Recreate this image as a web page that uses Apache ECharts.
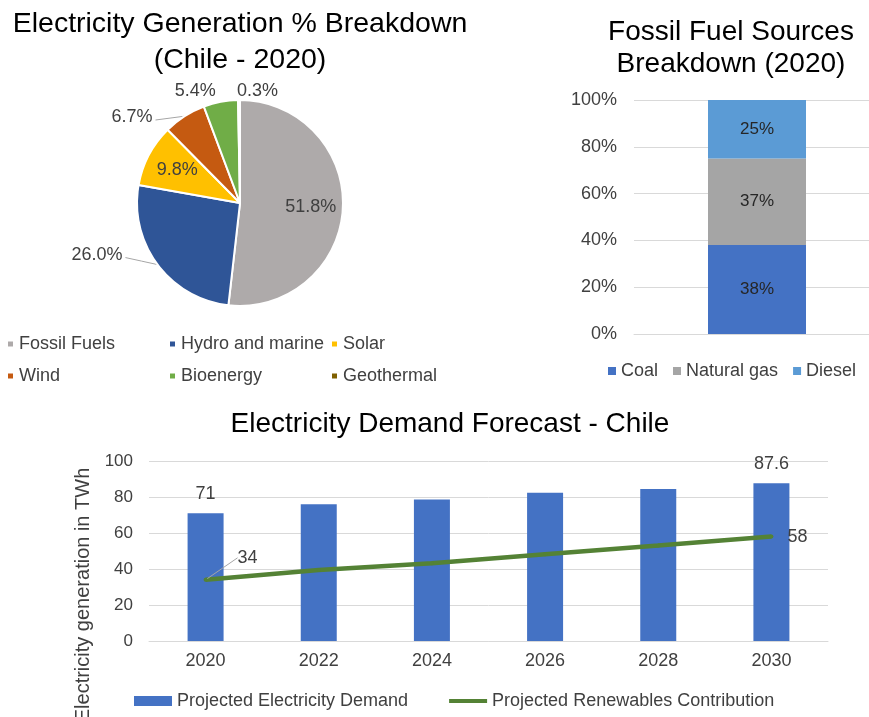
<!DOCTYPE html>
<html>
<head>
<meta charset="utf-8">
<script src="https://cdn.jsdelivr.net/npm/echarts@6/dist/echarts.min.js"></script>
<style>
  html, body { margin: 0; padding: 0; background: #fff; }
  #chart { width: 869px; height: 717px; }
</style>
</head>
<body>
<div id="chart"></div>
<script>
  // generation mix 2020 (pie)
  const sourceNames = ['Fossil Fuels', 'Hydro and marine', 'Solar', 'Wind', 'Bioenergy', 'Geothermal'];
  const sourceShares = [51.8, 26.0, 9.8, 6.7, 5.4, 0.3];
  const sourceColors = ['#aeaaaa', '#2f5597', '#ffc000', '#c55a11', '#70ad47', '#7f6000'];

  // fossil fuel split (stacked bar)
  const fuelNames = ['Coal', 'Natural gas', 'Diesel'];
  const fuelShares = [38, 37, 25];
  const fuelColors = ['#4472c4', '#a5a5a5', '#5b9bd5'];
  const pctTicks = [0, 20, 40, 60, 80, 100];

  // demand forecast
  const years = ['2020', '2022', '2024', '2026', '2028', '2030'];
  const demand = [71, 76, 78.6, 82.3, 84.4, 87.6];
  const renewables = [34, 39.5, 43.2, 48.2, 53, 58];
  const twhTicks = [0, 20, 40, 60, 80, 100];

  const FONT = 'Liberation Sans, Arial, sans-serif';
  const PIE_C = [240, 203];
  const insideIdx = [0, 2];
  const lineIdx = [1, 3];
  // label nudges for the outer pie labels
  const pieNudge = { 1: [0, -16], 3: [24, -23], 4: [37, -29], 5: [44, -9] };

  let myChart = echarts.init(document.getElementById('chart'));

  let pieData = sourceNames.map((n, i) => {
    let item = { name: n, value: sourceShares[i], itemStyle: { color: sourceColors[i] } };
    if (insideIdx.includes(i)) {
      item.label = { position: 'inside' };
    }
    if (i >= 4) {
      item.labelLine = { show: false, length: 0, length2: 0 };
    }
    return item;
  });

  let fuelSeries = fuelNames.map((n, i) => ({
    name: n,
    type: 'bar',
    stack: 'fuel',
    xAxisIndex: 0,
    yAxisIndex: 0,
    barWidth: 98,
    data: [fuelShares[i]],
    itemStyle: { color: fuelColors[i] },
    label: {
      show: true,
      formatter: '{c}%',
      color: '#262626',
      fontSize: 17,
      fontFamily: FONT
    }
  }));

  let legendText = { fontSize: 18, color: '#404040', fontFamily: FONT };

  let option = {
    animation: false,
    textStyle: { fontFamily: FONT },
    title: [
      {
        text: 'Electricity Generation % Breakdown\n(Chile - 2020)',
        left: 240, top: 6, padding: 0,
        textAlign: 'center',
        textStyle: { fontSize: 28.5, fontWeight: 'normal', color: '#000', lineHeight: 36, fontFamily: FONT }
      },
      {
        text: 'Fossil Fuel Sources\nBreakdown (2020)',
        left: 731, top: 16, padding: 0,
        textAlign: 'center',
        textStyle: { fontSize: 28, fontWeight: 'normal', color: '#000', lineHeight: 32, fontFamily: FONT }
      },
      {
        text: 'Electricity Demand Forecast - Chile',
        left: 450, top: 410, padding: 0,
        textAlign: 'center',
        textStyle: { fontSize: 28, fontWeight: 'normal', color: '#000', lineHeight: 28, fontFamily: FONT }
      }
    ],
    legend: [
      {
        data: ['Fossil Fuels', 'Wind'], orient: 'vertical', left: 6, top: 335, padding: 0,
        icon: 'rect', itemWidth: 7, itemHeight: 7, itemGap: 14, textStyle: legendText
      },
      {
        data: ['Hydro and marine', 'Bioenergy'], orient: 'vertical', left: 168, top: 335, padding: 0,
        icon: 'rect', itemWidth: 7, itemHeight: 7, itemGap: 14, textStyle: legendText
      },
      {
        data: ['Solar', 'Geothermal'], orient: 'vertical', left: 330, top: 335, padding: 0,
        icon: 'rect', itemWidth: 7, itemHeight: 7, itemGap: 14, textStyle: legendText
      },
      {
        data: fuelNames, left: 608, top: 362, padding: 0,
        icon: 'rect', itemWidth: 8, itemHeight: 8, itemGap: 15, textStyle: legendText
      },
      {
        data: [
          { name: 'Projected Electricity Demand', icon: 'rect' },
          { name: 'Projected Renewables Contribution', icon: 'path://M0,0H40V4H0Z' }
        ],
        left: 134, top: 692, padding: 0, itemGap: 41,
        itemWidth: 38, itemHeight: 10, textStyle: legendText
      }
    ],
    grid: [
      { left: 634, right: -11, top: 100, bottom: 383, outerBoundsMode: 'none' },
      { left: 149, right: 41, top: 461, bottom: 76, outerBoundsMode: 'none' }
    ],
    xAxis: [
      {
        gridIndex: 0, type: 'category', data: ['2020'],
        axisLabel: { show: false }, axisTick: { show: false },
        axisLine: { lineStyle: { color: '#d9d9d9' } }
      },
      {
        gridIndex: 1, type: 'category', data: years,
        axisTick: { show: false },
        axisLine: { lineStyle: { color: '#d9d9d9' } },
        axisLabel: { fontSize: 18, color: '#404040', margin: 11 }
      }
    ],
    yAxis: [
      {
        gridIndex: 0, type: 'value',
        min: pctTicks[0], max: pctTicks[pctTicks.length - 1], interval: pctTicks[1] - pctTicks[0],
        axisLabel: { formatter: '{value}%', fontSize: 18, color: '#404040', margin: 17 },
        splitLine: { lineStyle: { color: '#d9d9d9' } }
      },
      {
        gridIndex: 1, type: 'value',
        min: twhTicks[0], max: twhTicks[twhTicks.length - 1], interval: twhTicks[1] - twhTicks[0],
        name: 'Electricity generation in TWh',
        nameLocation: 'middle', nameGap: 51, nameRotate: 90,
        nameTextStyle: { fontSize: 20, color: '#404040', padding: [0, 88, 0, 0] },
        axisLabel: { fontSize: 17, color: '#404040', margin: 16 },
        splitLine: { lineStyle: { color: '#d9d9d9' } }
      }
    ],
    series: [
      {
        type: 'pie',
        center: PIE_C,
        radius: 103,
        startAngle: 90,
        data: pieData,
        itemStyle: { borderColor: '#fff', borderWidth: 2 },
        label: {
          formatter: p => p.value.toFixed(1) + '%',
          fontSize: 18,
          color: '#404040'
        },
        labelLine: { length: 10, length2: 22, lineStyle: { color: '#a6a6a6' } },
        labelLayout: function (params) {
          let i = params.dataIndex;
          let r = params.labelRect;
          if (insideIdx.includes(i)) {
            // push inside labels a bit further out from the centre
            let cx = r.x + r.width / 2, cy = r.y + r.height / 2;
            return { dx: (cx - PIE_C[0]) * 0.3, dy: (cy - PIE_C[1]) * 0.3 };
          }
          if (pieNudge[i]) {
            let [dx, dy] = pieNudge[i];
            let out = { dx: dx, dy: dy };
            let pts = params.labelLinePoints;
            if (lineIdx.includes(i) && pts && pts.length) {
              let p0 = pts[0];
              let end = [r.x + r.width + dx + 3, r.y + r.height / 2 + dy + 3];
              let mid = [(p0[0] + end[0]) / 2, (p0[1] + end[1]) / 2];
              out.labelLinePoints = [p0, mid, end];
            }
            return out;
          }
          return {};
        }
      },
      ...fuelSeries,
      {
        name: 'Projected Electricity Demand',
        type: 'bar',
        xAxisIndex: 1, yAxisIndex: 1,
        barWidth: 36,
        data: demand.map((v, i) => ({
          value: v,
          label: { show: i === 0 || i === demand.length - 1 }
        })),
        itemStyle: { color: '#4472c4' },
        label: { position: 'top', distance: 10, fontSize: 18, color: '#404040' }
      },
      {
        name: 'Projected Renewables Contribution',
        type: 'line',
        xAxisIndex: 1, yAxisIndex: 1,
        symbol: 'circle', symbolSize: 4, showSymbol: true,
        data: renewables.map((v, i) => ({
          value: v,
          label: { show: i === 0 || i === renewables.length - 1 },
          labelLine: { show: i === 0 }
        })),
        lineStyle: { color: '#548235', width: 4.5 },
        itemStyle: { color: '#548235' },
        label: { position: 'right', distance: 14, fontSize: 18, color: '#404040' },
        labelLine: { show: true, lineStyle: { color: '#a6a6a6' } },
        labelLayout: function (params) {
          if (params.dataIndex === 0) {
            return { dx: 16, dy: -22 };
          }
          return {};
        }
      }
    ]
  };

  myChart.setOption(option);
</script>
</body>
</html>
